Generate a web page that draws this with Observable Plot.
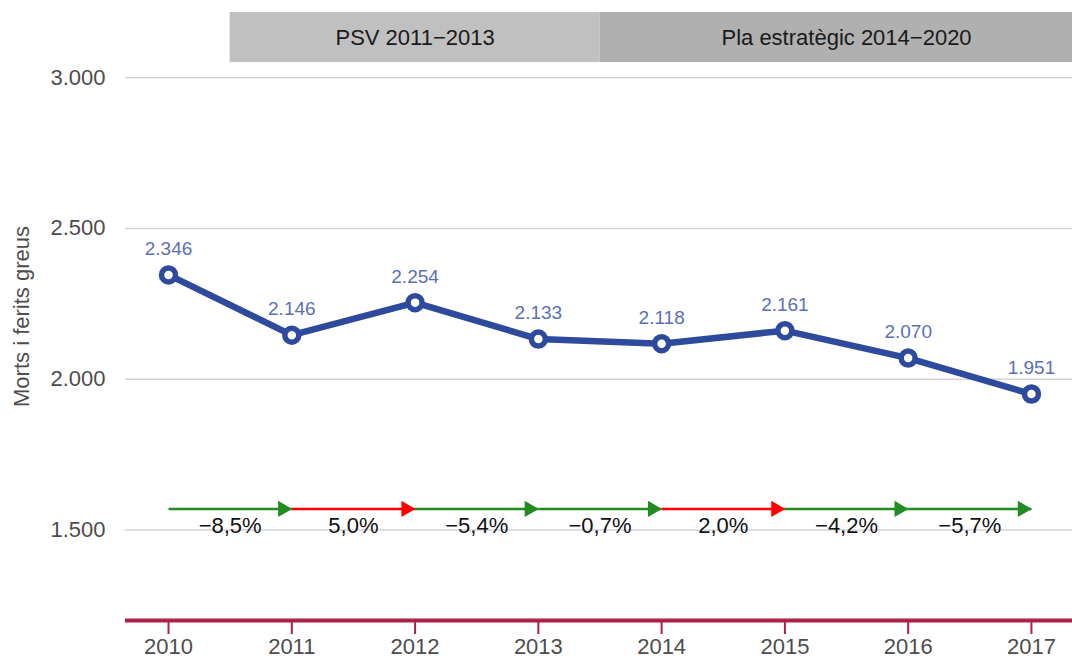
<!DOCTYPE html>
<html>
<head>
<meta charset="utf-8">
<script src="https://cdn.jsdelivr.net/npm/d3@7"></script>
<script src="https://cdn.jsdelivr.net/npm/@observablehq/plot@0.6"></script>
<style>
  html, body { margin: 0; padding: 0; background: #fff; }
  #chart svg { display: block; font-family: "Liberation Sans", Arial, sans-serif; }
</style>
</head>
<body>
<div id="chart"></div>
<script>
const years = [2010, 2011, 2012, 2013, 2014, 2015, 2016, 2017];
const values = [2346, 2146, 2254, 2133, 2118, 2161, 2070, 1951];
const changes = [-8.5, 5.0, -5.4, -0.7, 2.0, -4.2, -5.7];
const yTicks = [1500, 2000, 2500, 3000];
const periodNames = ["PSV 2011\u22122013", "Pla estratègic 2014\u22122020"];
const periodStart = [2010.5, 2013.5];
const periodEnd = [2013.5, 2017.5];
const periodFill = ["#c0c0c0", "#b0b0b0"];

const loc = d3.formatLocale({decimal: ",", thousands: ".", grouping: [3], currency: ["", "€"], minus: "\u2212"});
const fmtInt = loc.format(",d");
const fmtPct = v => loc.format(".1f")(v) + "%";

const points = years.map((y, i) => ({year: y, value: values[i]}));
const segs = changes.map((c, i) => ({from: years[i], to: years[i + 1], mid: (years[i] + years[i + 1]) / 2, change: c, color: c < 0 ? "#228b22" : "#ff0000"}));
const periods = periodNames.map((n, i) => ({name: n, x1: periodStart[i], x2: periodEnd[i], fill: periodFill[i]}));

const arrowY = 1570;
const labelY = 1514;
const bandLo = 3050, bandHi = 3216;
const lineColor = "#2d4a9d";
const axisColor = "#b01e4c";

const chart = Plot.plot({
  width: 1072,
  height: 659,
  marginLeft: 125,
  marginRight: 0,
  marginTop: 12,
  marginBottom: 39,
  style: {fontFamily: '"Liberation Sans", Arial, sans-serif', background: "#fff"},
  x: {domain: [2009.651, 2017.333]},
  y: {domain: [1200, bandHi]},
  marks: [
    Plot.gridY(yTicks, {stroke: "#d2d5d9", strokeOpacity: 1, strokeWidth: 1.5}),
    Plot.axisY(yTicks, {tickSize: 0, tickPadding: 20, tickFormat: fmtInt, fontSize: 22, fill: "#4d4d4d",
      label: "Morts i ferits greus", labelAnchor: "center", labelOffset: 112, labelArrow: "none"}),
    Plot.rect(periods, {x1: "x1", x2: "x2", y1: bandLo, y2: bandHi, fill: "fill", clip: true}),
    Plot.text(periods, {x: d => (d.x1 + d.x2) / 2, y: (bandLo + bandHi) / 2, text: "name", fontSize: 22, fill: "#1a1a1a"}),
    Plot.link(segs, {x1: "from", x2: "to", y1: arrowY, y2: arrowY, stroke: "color", strokeWidth: 2.5}),
    Plot.dot(segs, {x: "to", y: arrowY, symbol: "triangle", rotate: 90, r: 6, fill: "color", stroke: null, dx: -9}),
    Plot.text(segs, {x: "mid", y: labelY, text: d => fmtPct(d.change), fontSize: 22, fill: "#111"}),
    Plot.line(points, {x: "year", y: "value", stroke: lineColor, strokeWidth: 6.5}),
    Plot.dot(points, {x: "year", y: "value", r: 7, fill: "white", stroke: lineColor, strokeWidth: 5.5}),
    Plot.text(points, {x: "year", y: "value", text: d => fmtInt(d.value), dy: -26, fontSize: 19, fill: "#5b70b8"}),
    Plot.ruleY([1200], {stroke: axisColor, strokeWidth: 4}),
    Plot.axisX(years, {tickSize: 14, stroke: axisColor, strokeWidth: 2, text: null, label: null}),
    Plot.axisX(years, {tickSize: 0, tickPadding: 18, tickFormat: d => String(d), fontSize: 22, fill: "#4d4d4d", label: null})
  ]
});
document.getElementById("chart").appendChild(chart);
</script>
</body>
</html>
